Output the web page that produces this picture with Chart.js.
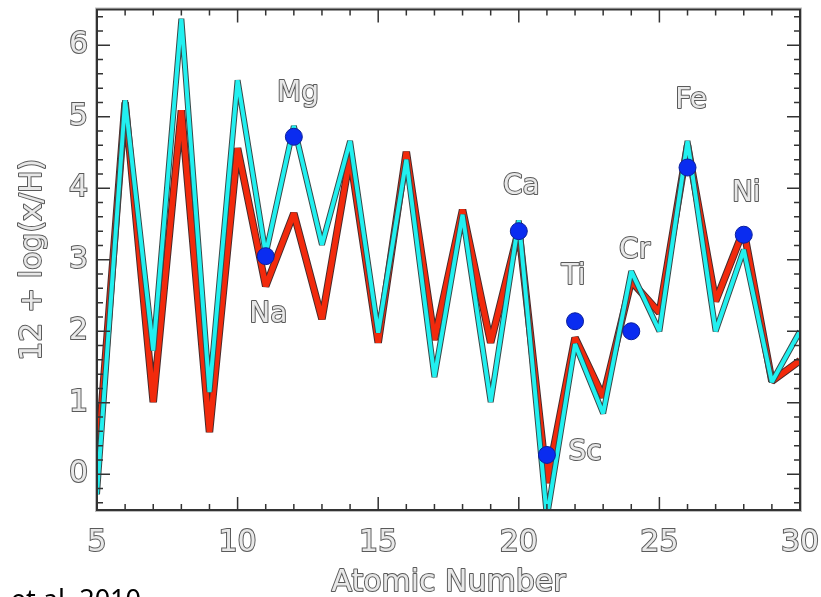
<!DOCTYPE html>
<html>
<head>
<meta charset="utf-8">
<script src="https://cdn.jsdelivr.net/npm/chart.js@4.4.1/dist/chart.umd.min.js"></script>
<style>
html, body { margin: 0; padding: 0; background: #fff; }
#wrap { width: 821px; height: 597px; }
</style>
</head>
<body>
<div id="wrap"><canvas id="myChart" width="821" height="597"></canvas></div>
<script>
// data
const atomicNumber = [5, 6, 7, 8, 9, 10, 11, 12, 13, 14, 15, 16, 17, 18, 19, 20, 21, 22, 23, 24, 25, 26, 27, 28, 29, 30];
const redValues  = [0.1, 5.20, 1.01, 5.09, 0.59, 4.56, 2.63, 3.65, 2.17, 4.45, 1.84, 4.51, 1.88, 3.70, 1.84, 3.42, -0.12, 1.91, 1.08, 2.70, 2.26, 4.60, 2.42, 3.42, 1.30, 1.59];
const cyanValues = [-0.28, 5.23, 1.73, 6.37, 1.15, 5.51, 3.08, 4.87, 3.21, 4.66, 1.98, 4.40, 1.36, 3.63, 1.01, 3.55, -0.60, 1.82, 0.85, 2.84, 2.00, 4.66, 2.00, 3.14, 1.29, 2.00];

const dotElements = ['Na', 'Mg', 'Ca', 'Sc', 'Ti', 'Cr', 'Fe', 'Ni'];
const dotZ = [11, 12, 20, 21, 22, 24, 26, 28];
const dotValues = [3.05, 4.72, 3.40, 0.27, 2.14, 2.00, 4.29, 3.35];

// where the element names sit (data units)
const labelX = [11.09, 12.15, 20.09, 22.36, 21.95, 24.12, 26.13, 28.09];
const labelY = [2.23, 5.32, 4.02, 0.30, 2.76, 3.13, 5.22, 3.93];

const xTicks = [5, 10, 15, 20, 25, 30];
const yTicks = [0, 1, 2, 3, 4, 5, 6];

const xTitle = 'Atomic Number';
const yTitle = '12 + log(x/H)';
const credit = 'et al. 2010';

function pts(xs, ys) {
    return xs.map(function(x, i) { return {x: x, y: ys[i]}; });
}

const hollowFont = 'DejaVu Sans';

function hollowText(ctx, text, x, y) {
    ctx.lineWidth = 2;
    ctx.strokeStyle = '#5a5a5a';
    ctx.lineJoin = 'round';
    ctx.strokeText(text, x, y);
    ctx.fillStyle = '#e8e8e8';
    ctx.fillText(text, x, y);
}

function noPadding(scale) {
    scale.paddingTop = 0;
    scale.paddingBottom = 0;
    scale.paddingLeft = 0;
    scale.paddingRight = 0;
}

// frame, inward ticks, titles and element labels
const framePlugin = {
    id: 'frame',
    afterDraw: function(chart) {
        const ctx = chart.ctx;
        const a = chart.chartArea;
        const xs = chart.scales.x;
        const ys = chart.scales.y;
        ctx.save();

        ctx.strokeStyle = '#bdbdbd';
        ctx.lineWidth = 1;
        ctx.strokeRect(a.left - 1.5, a.top - 1.5, a.right - a.left + 3, a.bottom - a.top + 3);
        ctx.strokeStyle = '#333';
        ctx.lineWidth = 2;
        ctx.strokeRect(a.left, a.top, a.right - a.left, a.bottom - a.top);

        ctx.lineWidth = 1.5;
        ctx.strokeStyle = '#333';
        ctx.beginPath();
        for (let v = 5; v <= 30; v++) {
            const px = xs.getPixelForValue(v);
            const len = (v % 5 === 0) ? 13 : 6;
            ctx.moveTo(px, a.bottom); ctx.lineTo(px, a.bottom - len);
            ctx.moveTo(px, a.top); ctx.lineTo(px, a.top + len);
        }
        for (let k = -2; k <= 32; k++) {
            const v = k / 5;
            const py = ys.getPixelForValue(v);
            const len = (k % 5 === 0) ? 13 : 6;
            ctx.moveTo(a.left, py); ctx.lineTo(a.left + len, py);
            ctx.moveTo(a.right, py); ctx.lineTo(a.right - len, py);
        }
        ctx.stroke();

        // element names
        ctx.font = '28px "' + hollowFont + '"';
        ctx.textAlign = 'center';
        ctx.textBaseline = 'middle';
        dotElements.forEach(function(name, i) {
            hollowText(ctx, name, xs.getPixelForValue(labelX[i]), ys.getPixelForValue(labelY[i]));
        });

        // axis titles
        ctx.font = '30px "' + hollowFont + '"';
        hollowText(ctx, xTitle, (a.left + a.right) / 2, 583);
        ctx.save();
        ctx.translate(33, (a.top + a.bottom) / 2);
        ctx.rotate(-Math.PI / 2);
        hollowText(ctx, yTitle, 0, 0);
        ctx.restore();

        // citation cut off at the bottom
        ctx.font = '27px "Noto Sans"';
        ctx.textAlign = 'right';
        ctx.textBaseline = 'alphabetic';
        ctx.fillStyle = '#000';
        ctx.fillText(credit, 141, 609);

        ctx.restore();
    }
};

const tickFont = { family: hollowFont, size: 30 };

const ctx = document.getElementById('myChart').getContext('2d');

const myChart = new Chart(ctx, {
    type: 'line',
    data: {
        datasets: [{
            label: 'dots',
            type: 'scatter',
            data: pts(dotZ, dotValues),
            pointRadius: 8.5,
            pointBackgroundColor: '#0a2cf0',
            pointBorderColor: '#0a1f9c',
            pointBorderWidth: 1,
            showLine: false,
            order: 0
        }, {
            label: 'cyan',
            data: pts(atomicNumber, cyanValues),
            borderColor: '#22f0f0',
            borderWidth: 4,
            borderJoinStyle: 'bevel',
            pointRadius: 0,
            tension: 0,
            order: 1
        }, {
            label: 'cyan edge',
            data: pts(atomicNumber, cyanValues),
            borderColor: '#3a4a4a',
            borderWidth: 6,
            borderJoinStyle: 'bevel',
            pointRadius: 0,
            tension: 0,
            order: 2
        }, {
            label: 'red',
            data: pts(atomicNumber, redValues),
            borderColor: '#f22a0c',
            borderWidth: 5.5,
            borderJoinStyle: 'bevel',
            pointRadius: 0,
            tension: 0,
            order: 3
        }, {
            label: 'red edge',
            data: pts(atomicNumber, redValues),
            borderColor: '#4a2a2a',
            borderWidth: 7.5,
            borderJoinStyle: 'bevel',
            pointRadius: 0,
            tension: 0,
            order: 4
        }]
    },
    options: {
        responsive: false,
        animation: false,
        devicePixelRatio: 1,
        layout: { padding: { top: 8, right: 21, left: 0, bottom: 0 } },
        plugins: {
            legend: { display: false },
            tooltip: { enabled: false }
        },
        scales: {
            x: {
                type: 'linear',
                min: 5,
                max: 30,
                grid: { display: false, drawTicks: false },
                border: { display: false },
                afterFit: function(scale) { scale.height = 87; noPadding(scale); },
                afterBuildTicks: function(scale) {
                    scale.ticks = xTicks.map(function(v) { return {value: v}; });
                },
                ticks: {
                    font: tickFont,
                    color: '#e8e8e8',
                    textStrokeColor: '#5a5a5a',
                    textStrokeWidth: 2,
                    padding: 15,
                    maxRotation: 0,
                    autoSkip: false
                }
            },
            y: {
                type: 'linear',
                min: -0.5,
                max: 6.5,
                grid: { display: false, drawTicks: false },
                border: { display: false },
                afterFit: function(scale) { scale.width = 97; noPadding(scale); },
                afterBuildTicks: function(scale) {
                    scale.ticks = yTicks.map(function(v) { return {value: v}; });
                },
                ticks: {
                    font: tickFont,
                    color: '#e8e8e8',
                    textStrokeColor: '#5a5a5a',
                    textStrokeWidth: 2,
                    padding: 9,
                    autoSkip: false
                }
            }
        }
    },
    plugins: [framePlugin]
});
</script>
</body>
</html>
